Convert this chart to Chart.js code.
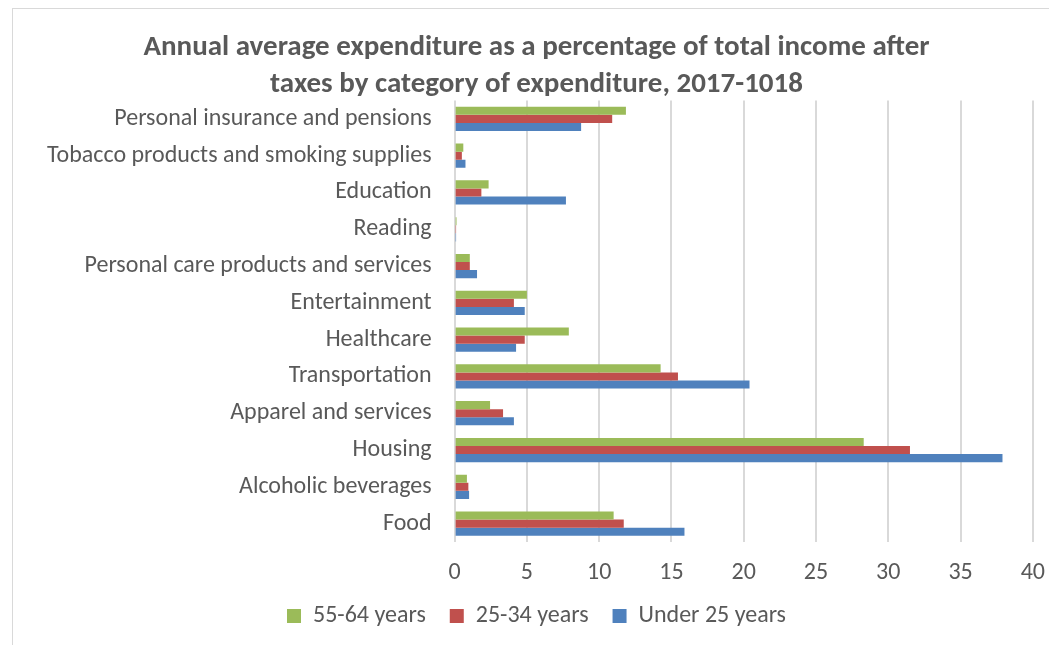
<!DOCTYPE html>
<html>
<head>
<meta charset="utf-8">
<style>
  html, body { margin: 0; padding: 0; background: #fff; }
  #wrap { width: 1049px; height: 645px; position: relative; }
</style>
<script src="https://cdn.jsdelivr.net/npm/chart.js@4/dist/chart.umd.min.js"></script>
</head>
<body>
<div id="wrap"><canvas id="spendChart" width="1049" height="645"></canvas></div>
<script>
// categories, top to bottom
const categories = [
  'Personal insurance and pensions',
  'Tobacco products and smoking supplies',
  'Education',
  'Reading',
  'Personal care products and services',
  'Entertainment',
  'Healthcare',
  'Transportation',
  'Apparel and services',
  'Housing',
  'Alcoholic beverages',
  'Food'
];

// % of after-tax income
const age55to64 = [11.85, 0.6, 2.35, 0.13, 1.05, 5.0, 7.9, 14.25, 2.45, 28.3, 0.85, 11.0];
const age25to34 = [10.9, 0.5, 1.85, 0.1, 1.05, 4.1, 4.85, 15.45, 3.35, 31.5, 0.95, 11.7];
const under25   = [8.75, 0.75, 7.7, 0.1, 1.55, 4.85, 4.25, 20.4, 4.1, 37.9, 1.0, 15.9];

const seriesNames = ['55-64 years', '25-34 years', 'Under 25 years'];
const xTicks = [0, 5, 10, 15, 20, 25, 30, 35, 40];

const FONT = 'Carlito, Calibri, Lato, sans-serif';
const TEXT = '#595959';

// outer frame like the office chart area
const frame = {
  id: 'frame',
  beforeDraw(chart) {
    const c = chart.ctx;
    c.save();
    c.fillStyle = '#fff';
    c.fillRect(0, 0, chart.width, chart.height);
    c.strokeStyle = '#d9d9d9';
    c.lineWidth = 1;
    c.strokeRect(12.5, 8.5, chart.width + 20, chart.height + 20);
    c.restore();
  }
};

new Chart(document.getElementById('spendChart'), {
  type: 'bar',
  data: {
    labels: categories,
    datasets: [
      { label: seriesNames[0], data: age55to64, backgroundColor: '#9BBB59' },
      { label: seriesNames[1], data: age25to34, backgroundColor: '#C0504D' },
      { label: seriesNames[2], data: under25, backgroundColor: '#4F81BD' }
    ]
  },
  options: {
    indexAxis: 'y',
    responsive: false,
    animation: false,
    layout: { padding: { left: 24, right: 0, top: 30, bottom: 7 } },
    datasets: { bar: { categoryPercentage: 0.66, barPercentage: 1.0 } },
    plugins: {
      title: {
        display: true,
        text: ['Annual average expenditure as a percentage of total income after',
               'taxes by category of expenditure, 2017-1018'],
        color: TEXT,
        font: { family: FONT, size: 29, weight: 'bold', lineHeight: 1.25 },
        padding: { top: 0, bottom: -2 }
      },
      legend: {
        position: 'bottom',
        labels: {
          color: TEXT,
          font: { family: FONT, size: 24 },
          boxWidth: 14,
          boxHeight: 14,
          padding: 24
        }
      },
      tooltip: { enabled: false }
    },
    scales: {
      x: {
        min: 0,
        max: 40,
        afterBuildTicks(axis) { axis.ticks = xTicks.map(v => ({ value: v })); },
        // keep the legend snug under the tick labels
        afterFit(axis) { axis.height = 38; },
        grid: { color: '#d9d9d9', lineWidth: 2, drawTicks: false },
        border: { display: false },
        // small padding keeps the right overflow tight; tall line box pushes text down
        ticks: { color: TEXT, font: { family: FONT, size: 24, lineHeight: 2.25 }, padding: 4 }
      },
      y: {
        grid: { display: false, drawTicks: false },
        border: { display: false },
        ticks: { color: TEXT, font: { family: FONT, size: 24 }, padding: 23 }
      }
    }
  },
  plugins: [frame]
});
</script>
</body>
</html>
